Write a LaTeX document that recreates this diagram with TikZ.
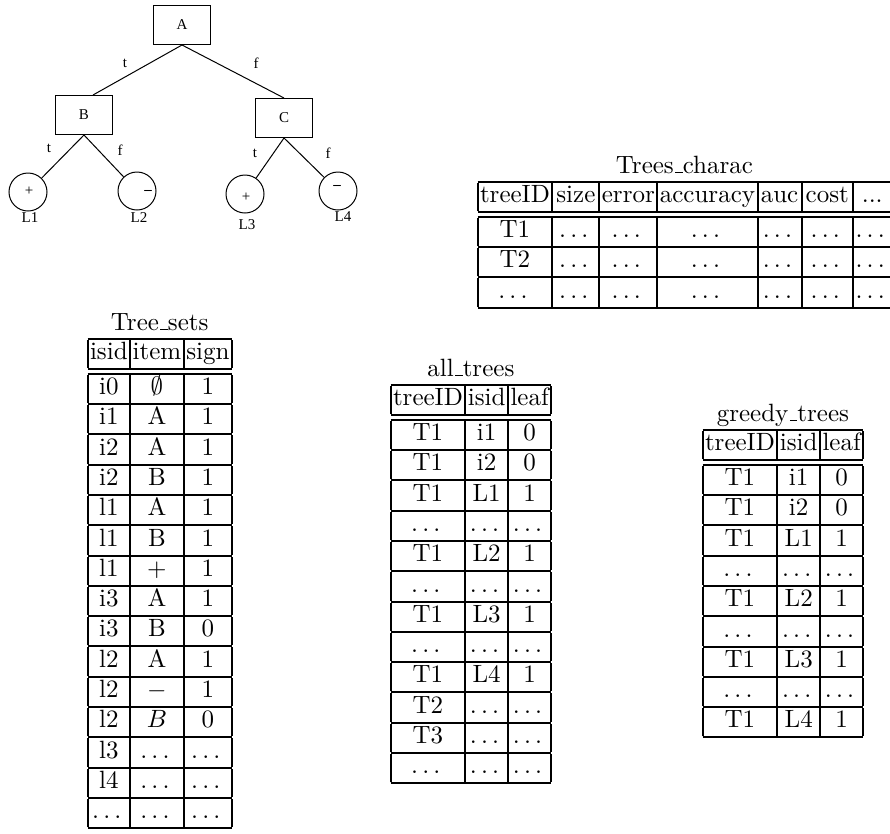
\documentclass[tikz,border=0pt]{standalone}
\usepackage{fontspec}
\usepackage{tikz}
\usetikzlibrary{positioning}
\newfontfamily\treefont{Liberation Serif}
\setlength{\tabcolsep}{1pt}
\setlength{\arrayrulewidth}{0.8pt}
\renewcommand{\arraystretch}{0.943}
\newcommand{\usc}{\leavevmode\kern.06em\vbox{\hrule width.3em}}
\newcommand{\dd}{.\kern1.67pt.\kern1.67pt.\kern1.67pt}

\begin{document}
\begin{tikzpicture}[x=0.4pt, y=-0.4pt,
  box/.style={draw, minimum width=22.8pt, minimum height=15.6pt, inner sep=0pt, font=\treefont\fontsize{6}{7}\selectfont},
  leaf/.style={draw, circle, minimum size=15.2pt, inner sep=0pt},
  lbl/.style={inner sep=0pt, font=\treefont\fontsize{6}{7}\selectfont},
  tbl/.style={anchor=north west, inner sep=0pt},
  ttl/.style={inner sep=0pt, anchor=base}]
  \useasboundingbox (0,0) rectangle (890,833);

  % decision tree
  \node[box] (a) at (182,25) {A};
  \node[box] (b) at (84,115) {B};
  \node[box] (c) at (284,118) {C};
  \node[leaf] (l1) at (28,192) {};
  \node[leaf] (l2) at (137,191) {};
  \node[leaf] (l3) at (245,194) {};
  \node[leaf] (l4) at (338,191) {};
  \draw (a.south) -- ([shift={(9,0)}]b.north);
  \draw (a.south) -- (c.north);
  \draw (b.south) -- (l1);
  \draw (b.south) -- (l2);
  \draw (c.south) -- (l3);
  \draw (c.south) -- (l4);
  \node[lbl] (ab) at (125,63) {t};
  \node[lbl] (ac) at (256,63) {f};
  \node[lbl] (bl1) at (49,148) {t};
  \node[lbl] (bl2) at (120,150) {f};
  \node[lbl] (cl3) at (255,153) {t};
  \node[lbl] (cl4) at (328,153) {f};
  \node[lbl] (s1) at (29,191) {+};
  \node[lbl] (s2) at (148,192) {\bfseries\textendash};
  \node[lbl] (s3) at (246,197) {+};
  \node[lbl] (s4) at (337,187) {\bfseries\textendash};
  \node[lbl] (n1) at (30,218) {L1};
  \node[lbl] (n2) at (139,218) {L2};
  \node[lbl] (n3) at (247,225) {L3};
  \node[lbl] (n4) at (343,217) {L4};

  % tables
  \node[tbl] (charac) at (477,180) {%
    \begin{tabular}{|c|c|c|c|c|c|c|}
      \hline
      treeID & \makebox[16.8pt]{size} & error & accuracy & \makebox[15.6pt]{auc} & \makebox[18.6pt]{cost} & ...\\
      \hline\hline
      T1 & \dd & \dd & \dd & \dd & \dd & \dd\\ \hline
      T2 & \dd & \dd & \dd & \dd & \dd & \dd\\ \hline
      \dd & \dd & \dd & \dd & \dd & \dd & \dd\\ \hline
    \end{tabular}};
  \node[ttl, above=2.8pt of charac, anchor=base] (charactitle) {Trees\usc charac};

  \node[tbl] (sets) at (87,337) {%
    \begin{tabular}{|c|c|c|}
      \hline
      isid & item & sign\\
      \hline\hline
      i0 & $\emptyset$ & 1\\ \hline
      i1 & A & 1\\ \hline
      i2 & A & 1\\ \hline
      i2 & B & 1\\ \hline
      l1 & A & 1\\ \hline
      l1 & B & 1\\ \hline
      l1 & $+$ & 1\\ \hline
      i3 & A & 1\\ \hline
      i3 & B & 0\\ \hline
      l2 & A & 1\\ \hline
      l2 & $-$ & 1\\ \hline
      l2 & $B$ & 0\\ \hline
      l3 & \dd & \dd\\ \hline
      l4 & \dd & \dd\\ \hline
      \dd & \dd & \dd\\ \hline
    \end{tabular}};
  \node[ttl, above=2.8pt of sets, anchor=base] (setstitle) {Tree\usc sets};

  \node[tbl] (alltrees) at (390,383) {%
    \begin{tabular}{|c|c|c|}
      \hline
      treeID & isid & leaf\\
      \hline\hline
      T1 & i1 & 0\\ \hline
      T1 & i2 & 0\\ \hline
      T1 & L1 & 1\\ \hline
      \dd & \dd & \dd\\ \hline
      T1 & L2 & 1\\ \hline
      \dd & \dd & \dd\\ \hline
      T1 & L3 & 1\\ \hline
      \dd & \dd & \dd\\ \hline
      T1 & L4 & 1\\ \hline
      T2 & \dd & \dd\\ \hline
      T3 & \dd & \dd\\ \hline
      \dd & \dd & \dd\\ \hline
    \end{tabular}};
  \node[ttl, above=2.8pt of alltrees, anchor=base] (alltitle) {all\usc trees};

  \node[tbl] (greedy) at (702,428) {%
    \begin{tabular}{|c|c|c|}
      \hline
      treeID & isid & leaf\\
      \hline\hline
      T1 & i1 & 0\\ \hline
      T1 & i2 & 0\\ \hline
      T1 & L1 & 1\\ \hline
      \dd & \dd & \dd\\ \hline
      T1 & L2 & 1\\ \hline
      \dd & \dd & \dd\\ \hline
      T1 & L3 & 1\\ \hline
      \dd & \dd & \dd\\ \hline
      T1 & L4 & 1\\ \hline
    \end{tabular}};
  \node[ttl, above=2.8pt of greedy, anchor=base] (greedytitle) {greedy\usc trees};
\end{tikzpicture}
\end{document}
